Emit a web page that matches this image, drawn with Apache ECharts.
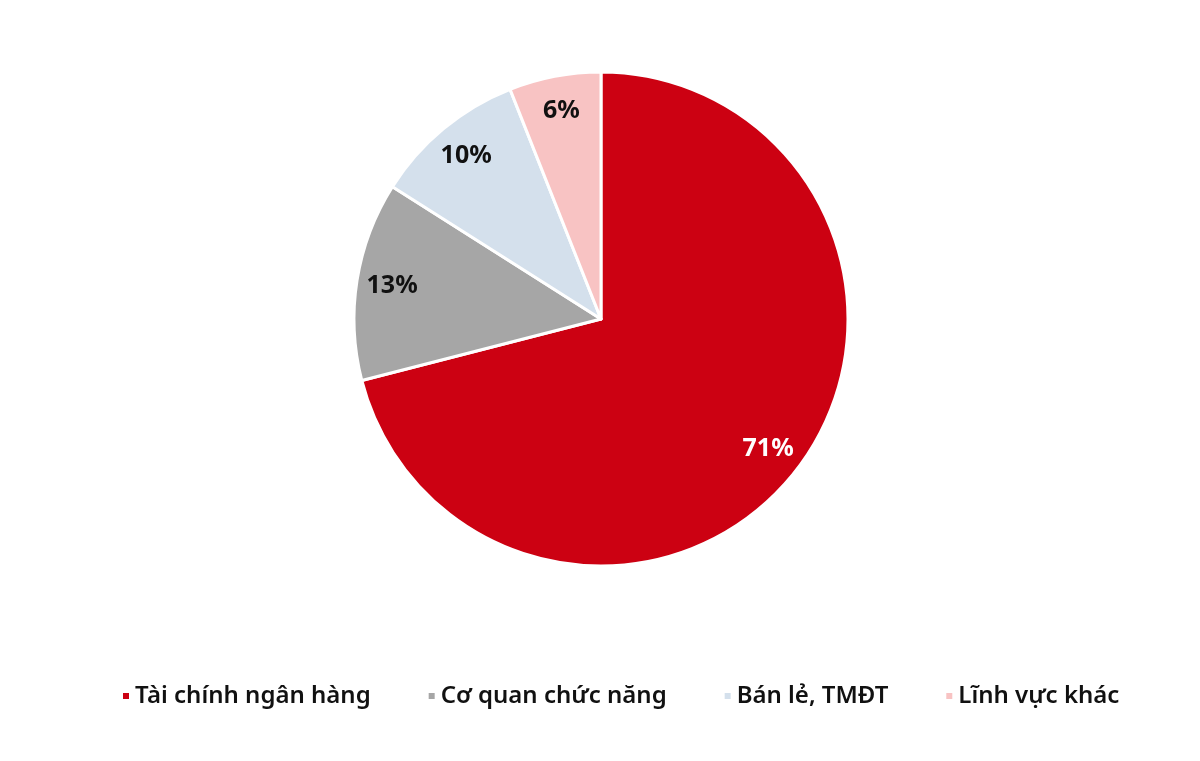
<!DOCTYPE html>
<html>
<head>
<meta charset="utf-8">
<script src="https://cdn.jsdelivr.net/npm/echarts@6/dist/echarts.min.js"></script>
<style>
  html, body { margin: 0; padding: 0; background: #ffffff; }
  #chart { width: 1200px; height: 761px; }
</style>
</head>
<body>
<div id="chart"></div>
<script>
  // data
  const categories = ['Tài chính ngân hàng', 'Cơ quan chức năng', 'Bán lẻ, TMĐT', 'Lĩnh vực khác'];
  const shares = [71, 13, 10, 6];
  const sliceColors = ['#CC0112', '#A6A6A6', '#D4E0EC', '#F8C3C3'];
  const labelColors = ['#ffffff', '#111111', '#111111', '#111111'];

  const fontFamily = '"Noto Sans", "Open Sans", sans-serif';

  const pieData = categories.map(function (name, i) {
    return { name: name, value: shares[i], itemStyle: { color: sliceColors[i] } };
  });

  // transparent copy used only to place labels near the rim
  const labelData = categories.map(function (name, i) {
    return {
      name: name,
      value: shares[i],
      itemStyle: { color: 'rgba(0,0,0,0)' },
      label: { color: labelColors[i] }
    };
  });

  const chart = echarts.init(document.getElementById('chart'));
  chart.setOption({
    animation: false,
    color: sliceColors,
    legend: {
      data: categories,
      bottom: 48,
      left: 116,
      icon: 'rect',
      itemWidth: 8,
      itemHeight: 8,
      itemGap: 56,
      textStyle: { fontFamily: fontFamily, fontSize: 24, fontWeight: 600, color: '#111111', padding: [0, 0, 0, 0] }
    },
    series: [
      {
        type: 'pie',
        center: [601, 319],
        radius: [0, 247],
        startAngle: 90,
        clockwise: true,
        silent: true,
        itemStyle: { borderColor: '#ffffff', borderWidth: 3 },
        label: { show: false },
        labelLine: { show: false },
        data: pieData
      },
      {
        type: 'pie',
        center: [601, 319],
        radius: [170, 247],
        startAngle: 90,
        clockwise: true,
        silent: true,
        label: {
          show: true,
          position: 'inside',
          formatter: '{c}%',
          fontFamily: fontFamily,
          fontSize: 25,
          fontWeight: 'bold'
        },
        labelLine: { show: false },
        data: labelData
      }
    ]
  });
</script>
</body>
</html>
